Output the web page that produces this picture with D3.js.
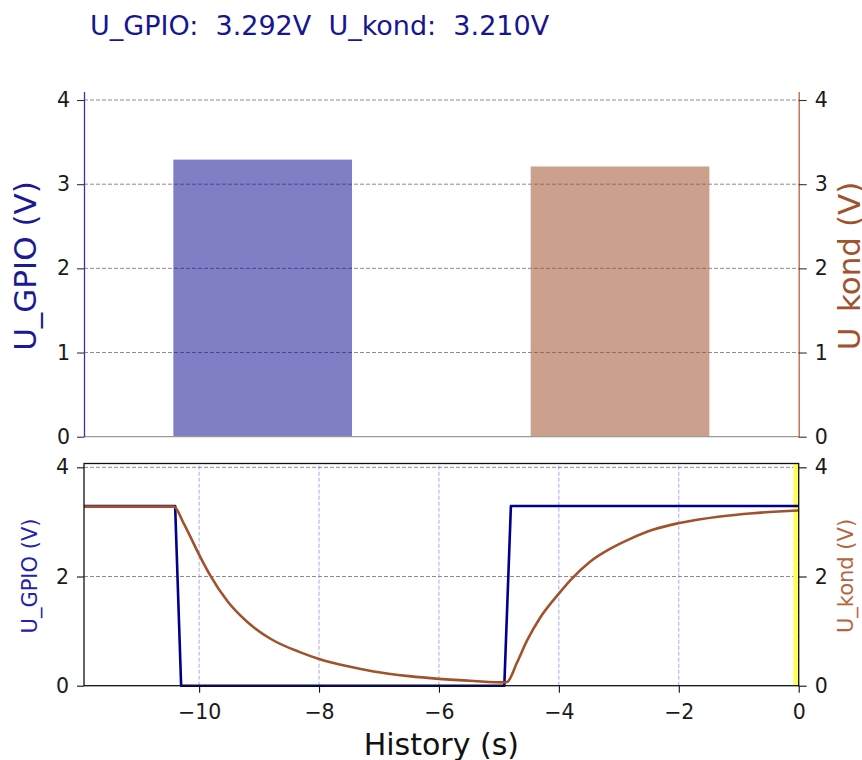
<!DOCTYPE html>
<html><head><meta charset="utf-8">
<script src="https://cdn.jsdelivr.net/npm/d3@7"></script>
<style>
body{margin:0;background:#fff}
svg{display:block}
text{font-family:"DejaVu Sans",sans-serif}
</style>
</head><body><svg id="c" width="862" height="760"></svg>
<script>
// ---- data ----
const categories = ["U_GPIO", "U_kond"];
const barValues = [3.292, 3.210];
const topTicks = [0, 1, 2, 3, 4];
const timeGpio = [-11.92, -10.40, -10.30, -4.91, -4.80, 0];
const gpio = [3.292, 3.292, 0, 0, 3.292, 3.292];
const timeKond = [-11.92, -10.42, -10.26, -10.0, -9.82, -9.53, -9.2, -8.81, -8.31, -8.0, -7.5, -7.09, -6.5, -6.0, -5.42, -4.91, -4.86, -4.7, -4.53, -4.31, -3.99, -3.81, -3.48, -3.14, -2.81, -2.42, -1.99, -1.31, -0.76, 0];
const kond = [3.28, 3.28, 2.98, 2.40, 2.03, 1.55, 1.17, 0.86, 0.61, 0.49, 0.35, 0.26, 0.175, 0.125, 0.085, 0.06, 0.07, 0.42, 0.83, 1.25, 1.70, 1.93, 2.27, 2.51, 2.69, 2.86, 2.98, 3.10, 3.16, 3.21];
const timeTicks = [-10, -8, -6, -4, -2, 0];
const bottomTicks = [0, 2, 4];
const hGridTop = [1, 2, 3, 4];
const hGridBottom = [2, 4];

// ---- styles ----
const BLUE = "#00008b", SIENNA = "#a0522d";
const svg = d3.select("#c");

// title
svg.append("text")
  .attr("x", 90).attr("y", 35)
  .attr("font-size", 27).attr("fill", "#16168e")
  .style("white-space", "pre")
  .text(`U_GPIO:  ${barValues[0].toFixed(3)}V  U_kond:  ${barValues[1].toFixed(3)}V`);

// ================= top chart =================
const L = 84, R = 798.7;
const xb = d3.scaleBand().domain(categories).range([L, R]).paddingInner(0.5).paddingOuter(0.25);
const yt = d3.scaleLinear().domain([0, 4.1]).range([436.7, 91.6]);

const gTop = svg.append("g");
gTop.selectAll("line.hg").data(hGridTop).join("line")
  .attr("x1", L).attr("x2", R)
  .attr("y1", d => yt(d)).attr("y2", d => yt(d))
  .attr("stroke", "#9c8497").attr("stroke-width", 1).attr("stroke-dasharray", "4,2");

gTop.selectAll("rect.bar").data(categories).join("rect")
  .attr("x", d => xb(d)).attr("width", xb.bandwidth())
  .attr("y", (d, i) => yt(barValues[i]))
  .attr("height", (d, i) => yt(0) - yt(barValues[i]))
  .attr("fill", (d, i) => i === 0 ? "rgba(0,0,139,0.5)" : "rgba(160,82,45,0.55)");

gTop.append("line").attr("x1", L).attr("x2", R).attr("y1", yt(0)).attr("y2", yt(0))
  .attr("stroke", "#999").attr("stroke-width", 1.2);

function styleAxis(g, domainColor) {
  g.select(".domain").attr("stroke", domainColor).attr("stroke-width", 1.3);
  g.selectAll(".tick line").attr("stroke", "#333").attr("stroke-width", 1.1);
  g.selectAll(".tick text").attr("font-size", 20.5).attr("fill", "#1a1a1a").attr("font-family", "DejaVu Sans");
}
const axL = gTop.append("g").attr("transform", `translate(${L},0)`)
  .call(d3.axisLeft(yt).tickValues(topTicks).tickFormat(d3.format("d")).tickSize(7).tickPadding(7).tickSizeOuter(0));
styleAxis(axL, "#3434b0");
const axR = gTop.append("g").attr("transform", `translate(${R},0)`)
  .call(d3.axisRight(yt).tickValues(topTicks).tickFormat(d3.format("d")).tickSize(8).tickPadding(8).tickSizeOuter(0));
styleAxis(axR, "#b8623a");

svg.append("text").attr("transform", "translate(36,266) rotate(-90)")
  .attr("text-anchor", "middle").attr("font-size", 31).attr("fill", "#1a1a94").text("U_GPIO (V)");
svg.append("text").attr("transform", "translate(860,266) rotate(-90)")
  .attr("text-anchor", "middle").attr("font-size", 31).attr("fill", SIENNA).text("U_kond (V)");

// ================= bottom chart =================
const xt = d3.scaleLinear().domain([-11.92, 0]).range([L, R]);
const yb = d3.scaleLinear().domain([0, 4.07]).range([685.7, 463.5]);
const gB = svg.append("g");

gB.selectAll("line.vg").data(timeTicks).join("line")
  .attr("x1", d => xt(d)).attr("x2", d => xt(d)).attr("y1", yb(0)).attr("y2", yb(4.07))
  .attr("stroke", "#a9a9e6").attr("stroke-width", 1).attr("stroke-dasharray", "4,2");
gB.selectAll("line.hg").data(hGridBottom).join("line")
  .attr("x1", L).attr("x2", R).attr("y1", d => yb(d)).attr("y2", d => yb(d))
  .attr("stroke", "#9c8497").attr("stroke-width", 1).attr("stroke-dasharray", "4,2");

// yellow "now" marker
gB.append("rect").attr("x", xt(-0.09)).attr("width", xt(0) - xt(-0.09))
  .attr("y", yb(4.07)).attr("height", yb(0) - yb(4.07)).attr("fill", "#ffff5a");

const line = d3.line().x(d => xt(d[0])).y(d => yb(d[1]));
gB.append("path").datum(timeGpio.map((t, i) => [t, gpio[i]]))
  .attr("d", line).attr("fill", "none").attr("stroke", BLUE).attr("stroke-width", 2.6).attr("stroke-linejoin", "round");
gB.append("path").datum(timeKond.map((t, i) => [t, kond[i]]))
  .attr("d", line.curve(d3.curveMonotoneX)).attr("fill", "none").attr("stroke", SIENNA).attr("stroke-width", 2.6);

gB.append("rect").attr("x", L).attr("y", yb(4.07)).attr("width", R - L).attr("height", yb(0) - yb(4.07))
  .attr("fill", "none").attr("stroke", "#111").attr("stroke-width", 1.3);

function styleB(g) {
  g.select(".domain").remove();
  g.selectAll(".tick line").attr("stroke", "#111").attr("stroke-width", 1.1);
  g.selectAll(".tick text").attr("font-size", 20.5).attr("fill", "#1a1a1a").attr("font-family", "DejaVu Sans");
}
const bx = gB.append("g").attr("transform", `translate(0,${yb(0)})`)
  .call(d3.axisBottom(xt).tickValues(timeTicks).tickFormat(d3.format("d")).tickSize(7).tickPadding(12));
styleB(bx);
const bl = gB.append("g").attr("transform", `translate(${L},0)`)
  .call(d3.axisLeft(yb).tickValues(bottomTicks).tickFormat(d3.format("d")).tickSize(7).tickPadding(8));
styleB(bl);
const br = gB.append("g").attr("transform", `translate(${R},0)`)
  .call(d3.axisRight(yb).tickValues(bottomTicks).tickFormat(d3.format("d")).tickSize(8).tickPadding(8));
styleB(br);

svg.append("text").attr("transform", "translate(37,576) rotate(-90)")
  .attr("text-anchor", "middle").attr("font-size", 21).attr("fill", "#2222aa").text("U_GPIO (V)");
svg.append("text").attr("transform", "translate(853,576) rotate(-90)")
  .attr("text-anchor", "middle").attr("font-size", 21).attr("fill", "#b5643e").text("U_kond (V)");

svg.append("text").attr("x", (L + R) / 2).attr("y", 755)
  .attr("text-anchor", "middle").attr("font-size", 30).attr("fill", "#111").text("History (s)");
</script>
</body></html>
